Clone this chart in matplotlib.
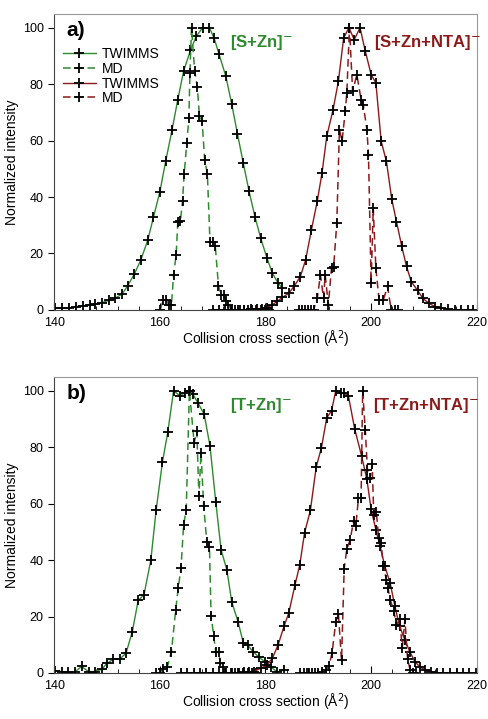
import matplotlib
matplotlib.use("Agg")
import matplotlib.pyplot as plt
from matplotlib.ticker import MultipleLocator

plt.rcParams['font.family'] = ['Liberation Sans', 'DejaVu Sans']

GREEN = '#2f8a2f'
RED = '#8b1a1a'

# ---- panel a: [S+Zn] / [S+Zn+NTA]
a_zn_tw_x = [140.1, 141.4, 142.8, 144.1, 145.5, 146.7, 147.8, 149.1, 150.4, 151.6, 152.9, 153.9,
             155.2, 156.4, 157.7, 158.8, 160.0, 161.1, 162.3, 163.4, 164.5, 165.8, 166.9, 168.1,
             169.4, 170.3, 171.2, 172.5, 173.6, 174.7, 175.8, 176.9, 178.0, 179.1, 180.3, 181.3,
             182.4, 183.2]
a_zn_tw_y = [0.6, 0.6, 0.6, 1.2, 1.3, 1.8, 2.0, 2.6, 3.4, 4.2, 5.7, 8.5,
             12.8, 17.7, 24.6, 32.9, 41.8, 52.6, 63.7, 74.5, 84.6, 92.0, 97.0, 100.0,
             100.0, 96.2, 90.7, 82.8, 73.0, 62.4, 52.0, 42.0, 33.1, 25.4, 18.3, 13.0,
             9.5, 7.7]

a_zn_md_x = [160.1, 160.6, 161.2, 161.7, 162.2, 162.6, 163.1, 163.4, 163.9, 164.3, 164.6, 165.1,
             165.5, 165.7, 166.0, 166.6, 167.1, 167.5, 168.0, 168.5, 169.0, 169.5, 170.0, 170.5,
             171.1, 171.6, 172.1, 172.5, 173.0, 173.5, 174.3, 175.1, 175.9, 176.7, 177.5, 178.3,
             179.1, 179.9, 180.7]
a_zn_md_y = [0.0, 3.5, 3.5, 1.8, 1.8, 12.4, 19.6, 31.0, 31.5, 38.5, 48.0, 59.0,
             68.0, 84.0, 100.0, 84.6, 79.0, 68.8, 67.0, 53.0, 48.3, 24.0, 24.0, 22.6,
             8.5, 5.3, 5.3, 3.0, 1.8, 0.0, 0.0, 0.0, 0.0, 0.0, 0.0, 0.0,
             0.0, 0.0, 0.0]

a_nta_tw_x = [170.0, 171.2, 172.4, 173.6, 174.8, 176.0, 177.2, 178.4, 179.3, 180.3, 181.3, 182.2,
              183.2, 184.4, 185.4, 186.6, 187.6, 188.7, 189.8, 190.7, 191.6, 192.8, 193.8, 194.8,
              195.8, 196.8, 197.9, 198.9, 200.0, 200.9, 201.9, 202.9, 203.9, 204.8, 205.8, 206.7,
              207.6, 208.8, 209.8, 210.9, 212.0, 213.3, 214.5, 215.8, 217.0, 218.3, 219.3]
a_nta_tw_y = [0.0, 0.0, 0.0, 0.0, 0.0, 0.0, 0.2, 0.2, 0.4, 0.6, 1.8, 3.0,
              4.4, 5.9, 8.3, 11.8, 17.7, 28.4, 38.5, 48.5, 61.5, 71.0, 81.0, 96.4,
              100.0, 95.8, 100.0, 91.7, 83.4, 80.5, 59.8, 52.6, 39.3, 31.3, 22.5, 15.4,
              10.0, 6.9, 4.1, 2.4, 1.2, 0.6, 0.2, 0.0, 0.0, 0.0, 0.0]

a_nta_md_x = [186.3, 186.9, 187.5, 188.0, 188.6, 189.1, 189.8, 190.4, 191.0, 191.3, 191.9, 192.5,
              192.9, 193.5, 194.0, 194.5, 195.1, 195.4, 195.9, 196.5, 197.3, 198.1, 198.5, 199.2,
              199.5, 200.0, 200.4, 200.9, 201.5, 202.3, 203.1, 203.8, 204.5, 205.0]
a_nta_md_y = [0.0, 0.0, 0.0, 0.0, 0.0, 0.0, 4.1, 12.4, 4.1, 12.4, 1.8, 14.8,
              15.2, 30.8, 63.9, 59.8, 70.4, 77.0, 100.0, 77.5, 83.4, 74.5, 72.8, 63.9,
              55.0, 9.5, 36.0, 14.8, 3.5, 3.5, 8.3, 0.0, 0.0, 0.0]

# ---- panel b: [T+Zn] / [T+Zn+NTA]
b_zn_tw_x = [140.2, 141.4, 142.7, 144.0, 145.2, 146.5, 147.7, 149.0, 150.0, 151.2, 152.4, 153.6,
             154.8, 155.9, 157.0, 158.3, 159.3, 160.5, 161.5, 162.6, 163.8, 164.8, 165.7, 166.2,
             167.2, 168.4, 169.5, 170.6, 171.6, 172.7, 173.6, 174.8, 175.8, 176.6, 177.7, 178.8,
             179.9, 181.0, 182.2, 183.5]
b_zn_tw_y = [0.8, 0.5, 0.2, 0.5, 2.3, 0.5, 0.5, 1.3, 3.4, 4.9, 4.9, 7.0,
             14.7, 25.7, 27.7, 40.0, 57.7, 74.8, 85.3, 100.0, 98.3, 99.4, 100.0, 99.0,
             95.8, 91.7, 80.4, 60.5, 43.6, 36.5, 25.3, 18.2, 10.7, 9.9, 7.5, 5.5,
             4.0, 2.2, 0.4, 1.0]

b_zn_md_x = [159.3, 160.0, 160.6, 161.4, 162.2, 163.0, 163.5, 164.0, 164.5, 165.0, 165.6, 166.5,
             167.0, 167.4, 167.8, 168.3, 168.9, 169.4, 169.7, 170.2, 170.6, 171.2, 171.4, 171.9,
             172.6, 173.4, 174.2, 175.0, 175.8, 176.6, 177.4, 178.2]
b_zn_md_y = [0.0, 0.0, 1.5, 2.0, 7.6, 22.3, 30.3, 37.1, 52.5, 57.8, 100.0, 81.5,
             85.7, 62.8, 78.0, 59.3, 46.3, 44.8, 20.3, 13.2, 7.3, 7.3, 3.7, 2.0,
             0.0, 0.0, 0.0, 0.0, 0.0, 0.0, 0.0, 0.0]

b_nta_tw_x = [164.0, 165.2, 166.4, 167.6, 168.8, 170.0, 171.2, 172.4, 173.6, 174.8, 176.0, 176.9,
              177.8, 179.1, 180.3, 181.3, 182.4, 183.5, 184.4, 185.6, 186.5, 187.4, 188.5, 189.6,
              190.6, 191.6, 192.5, 193.3, 194.3, 194.9, 195.7, 196.9, 198.2, 199.2, 200.0, 200.9,
              201.7, 202.6, 203.6, 204.5, 205.4, 206.4, 207.3, 208.3, 209.2, 210.2, 211.3, 212.5,
              213.7, 215.0, 216.2, 217.4, 218.6, 219.8]
b_nta_tw_y = [0.0, 0.0, 0.0, 0.0, 0.0, 0.0, 0.0, 0.0, 0.0, 0.0, 0.2, 0.3,
              0.5, 1.7, 2.8, 5.2, 10.0, 16.5, 21.2, 31.3, 38.4, 49.7, 57.6, 73.0,
              79.9, 90.5, 92.9, 100.0, 99.4, 99.1, 98.2, 86.4, 76.9, 68.6, 58.0, 50.8,
              44.9, 37.8, 31.9, 23.6, 16.5, 11.7, 7.6, 4.0, 2.2, 1.1, 0.5, 0.0,
              0.0, 0.0, 0.0, 0.0, 0.0, 0.0]

b_nta_md_x = [186.6, 187.2, 187.8, 188.3, 188.9, 189.4, 190.0, 190.7, 191.4, 192.0, 192.6, 193.3,
              193.8, 194.4, 194.9, 195.4, 196.0, 196.7, 197.1, 197.6, 198.1, 198.4, 198.9, 199.3,
              199.8, 200.2, 200.5, 201.0, 201.4, 201.9, 202.3, 202.9, 203.2, 203.6, 204.3, 204.8,
              205.4, 205.9, 206.4, 206.9, 207.4, 207.9, 208.5]
b_nta_md_y = [0.0, 0.0, 0.0, 0.0, 0.0, 0.0, 0.0, 0.5, 1.0, 2.5, 7.0, 18.0,
              21.0, 4.6, 37.0, 44.0, 47.0, 54.0, 52.0, 62.0, 62.0, 100.0, 86.0, 72.0,
              69.0, 74.0, 56.0, 57.0, 48.0, 46.0, 38.0, 33.0, 30.0, 26.0, 22.0, 17.0,
              19.0, 9.0, 19.0, 5.0, 1.0, 0.0, 0.0]

panels = [
    ("a)", "[S+Zn]$^{-}$", "[S+Zn+NTA]$^{-}$",
     (a_zn_tw_x, a_zn_tw_y), (a_zn_md_x, a_zn_md_y),
     (a_nta_tw_x, a_nta_tw_y), (a_nta_md_x, a_nta_md_y)),
    ("b)", "[T+Zn]$^{-}$", "[T+Zn+NTA]$^{-}$",
     (b_zn_tw_x, b_zn_tw_y), (b_zn_md_x, b_zn_md_y),
     (b_nta_tw_x, b_nta_tw_y), (b_nta_md_x, b_nta_md_y)),
]

fig = plt.figure(figsize=(4.88, 7.19), dpi=100)
rects = [[0.111, 0.569, 0.866, 0.412], [0.111, 0.064, 0.866, 0.412]]

mk = dict(marker='+', markersize=7, markeredgewidth=1.3,
          markeredgecolor='black', markerfacecolor='black')

for rect, (tag, lab_zn, lab_nta, zn_tw, zn_md, nta_tw, nta_md) in zip(rects, panels):
    ax = fig.add_axes(rect)
    ax.plot(*zn_tw, color=GREEN, lw=1.0, ls='-', label='TWIMMS', **mk)
    ax.plot(*zn_md, color=GREEN, lw=1.1, ls=(0, (5, 3)), label='MD', **mk)
    ax.plot(*nta_tw, color=RED, lw=1.0, ls='-', label='TWIMMS', **mk)
    ax.plot(*nta_md, color=RED, lw=1.1, ls=(0, (5, 3)), label='MD', **mk)

    ax.set_xlim(140, 220)
    ax.set_ylim(0, 105)
    ax.xaxis.set_major_locator(MultipleLocator(20))
    ax.xaxis.set_minor_locator(MultipleLocator(4))
    ax.yaxis.set_major_locator(MultipleLocator(20))
    ax.tick_params(axis='x', which='both', direction='in', labelsize=9, pad=5)
    ax.tick_params(axis='x', which='major', length=5)
    ax.tick_params(axis='x', which='minor', length=3)
    ax.tick_params(axis='y', direction='out', length=4, labelsize=9)
    for side in ['top', 'right']:
        ax.spines[side].set_color('#999999')
    for side in ['left', 'bottom']:
        ax.spines[side].set_color('#444444')

    ax.set_xlabel("Collision cross section (Å$^2$)", fontsize=10, labelpad=0)
    ax.set_ylabel("Normalized intensity", fontsize=10, labelpad=3)

    ax.text(0.03, 0.975, tag, transform=ax.transAxes, fontsize=15, fontweight='bold',
            va='top', ha='left')
    ax.text(0.415, 0.935, lab_zn, transform=ax.transAxes,
            fontsize=12, fontweight='bold', color=GREEN, va='top', ha='left')
    ax.text(0.757 if tag == "a)" else 0.755, 0.935, lab_nta, transform=ax.transAxes,
            fontsize=12, fontweight='bold', color=RED, va='top', ha='left')

    if tag == "a)":
        ax.legend(loc='upper left', bbox_to_anchor=(0.0, 0.915), frameon=False,
                  fontsize=10, numpoints=1, handlelength=2.4, handletextpad=0.4,
                  labelspacing=0.05, borderaxespad=0.2)

fig.savefig("out.png", dpi=100)
